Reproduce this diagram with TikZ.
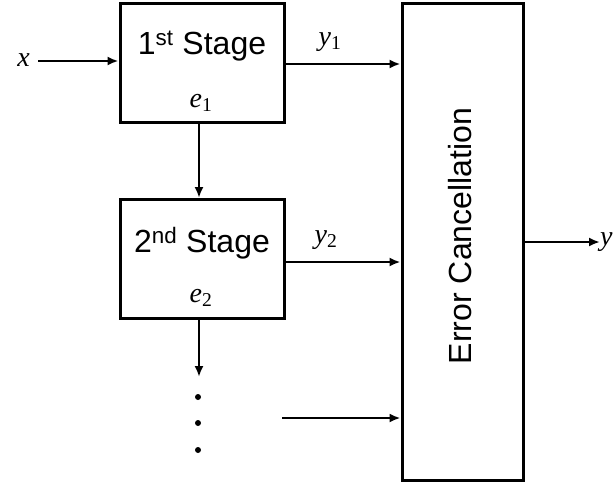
\documentclass[tikz,border=0pt]{standalone}
\usepackage{fontspec}
\setmainfont{Liberation Serif}
\newfontfamily\boxfont{Liberation Sans}
\usetikzlibrary{arrows.meta,positioning,calc}
\tikzset{stage/.style={draw,line width=3pt,minimum width=164pt,minimum height=119pt,inner sep=0pt},
  boxtext/.style={font=\boxfont\fontsize{32}{36}\selectfont,inner sep=0pt},
  sig/.style={font=\fontsize{28}{30}\selectfont\itshape,inner sep=0pt},
  arrow/.style={-{Latex[length=11pt,width=9pt]},line width=2.6pt},
  dot/.style={circle,fill,minimum size=6pt,inner sep=0pt}}

\begin{document}
\begin{tikzpicture}[x=1pt,y=-1pt]
\useasboundingbox (0,0) rectangle (615,483);
\node[stage] (s1) at (202,62.5) {};
\node[stage] (s2) at (202,259) {};
\node[draw,line width=3pt,minimum width=121pt,minimum height=477pt,inner sep=0pt] (ec) at (462.5,241.5) {};
\node[boxtext] (s1t) at (202,46) {1\textsuperscript{st} Stage};
\node[boxtext] (s2t) at (202,243) {2\textsuperscript{nd} Stage};
\node[boxtext,rotate=90] (ect) at (460,236) {Error Cancellation};
\node[sig] (e1) at (201,103) {e\textsubscript{\upshape 1}};
\node[sig] (e2) at (201,298) {e\textsubscript{\upshape 2}};
\node[sig,anchor=east] (x) at (30,60) {x};
\node[sig] (y1) at (330,42) {y\textsubscript{\upshape 1}};
\node[sig] (y2) at (326,240) {y\textsubscript{\upshape 2}};
\node[sig,anchor=west] (y) at (600,242) {y};
\coordinate (in3) at (282,418);
\coordinate (e2end) at (199,377);
% dots below the second stage
\foreach \i/\yy in {1/397,2/423,3/450}
  \node[dot] (d\i) at (198,\yy) {};
\draw[arrow] (x.east)++(8,1) -- (s1.west|-0,61);
\draw[arrow] (s1.east|-0,64) -- (ec.west|-0,64);
\draw[arrow] (s2.east|-0,262) -- (ec.west|-0,262);
\draw[arrow] (in3) -- (ec.west|-in3);
\draw[arrow] (s1.south-|199,0) -- (s2.north-|199,0);
\draw[arrow] (s2.south-|199,0) -- (e2end);
\draw[arrow] (ec.east|-0,242) -- (y.west|-0,242);
\end{tikzpicture}
\end{document}
